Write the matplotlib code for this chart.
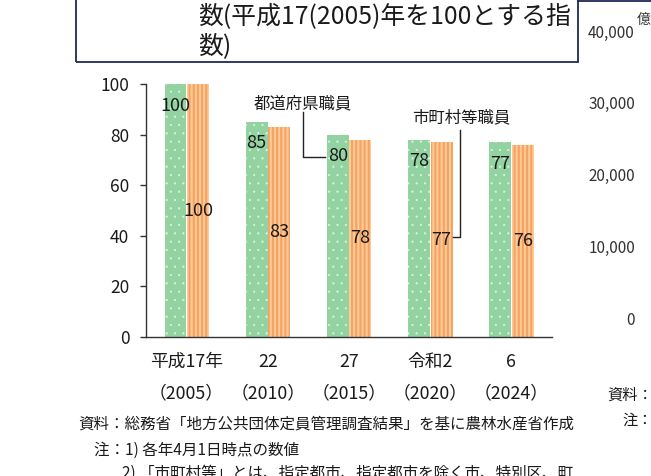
import matplotlib
matplotlib.use("Agg")
import matplotlib.pyplot as plt
from matplotlib.patches import Rectangle
from matplotlib.lines import Line2D
from matplotlib.transforms import blended_transform_factory

plt.rcParams['font.family'] = ['Noto Sans CJK JP', 'DejaVu Sans']

# データ（平成17年=100とする指数）
nendo = ['平成17年', '22', '27', '令和2', '6']
seireki = ['（2005）', '（2010）', '（2015）', '（2020）', '（2024）']
todofuken = [100, 85, 80, 78, 77]
shichoson = [100, 83, 78, 77, 76]

migi_ticks = ['40,000', '30,000', '20,000', '10,000', '0']

midashi = '数(平成17(2005)年を100とする指\n数)'
shiryo = '資料：総務省「地方公共団体定員管理調査結果」を基に農林水産省作成'
chu1 = '注：1) 各年4月1日時点の数値'
chu2 = '2) 「市町村等」とは、指定都市、指定都市を除く市、特別区、町'

W, H = 651, 476
fig = plt.figure(figsize=(W / 100, H / 100), dpi=100)
ax = fig.add_axes([146 / W, 1 - 337 / H, 406 / W, 253 / H])

x = list(range(len(nendo)))
haba = 0.27
with plt.rc_context({'hatch.linewidth': 0.3}):
    ax.bar([i - 0.137 for i in x], todofuken, haba, color='#93d3a2',
           edgecolor='#e2f4e5', linewidth=0, hatch='..')
with plt.rc_context({'hatch.linewidth': 1.5}):
    ax.bar([i + 0.14 for i in x], shichoson, haba, color='#ffcb92',
           edgecolor='#f4a266', linewidth=0, hatch='||||')

ax.set_xlim(-0.5, 4.5)
ax.set_ylim(0, 100)
ax.set_yticks([0, 20, 40, 60, 80, 100])
ax.set_xticks([])
ax.tick_params(axis='y', direction='out', length=4, width=1, color='#333333',
               labelsize=12.5, pad=8, labelcolor='#1a1a1a')
for s in ['top', 'right']:
    ax.spines[s].set_visible(False)
for s in ['left', 'bottom']:
    ax.spines[s].set_color('#333333')
    ax.spines[s].set_linewidth(1.0)

# 数値ラベル
for i in x:
    ax.text(i - 0.137, todofuken[i] - 8.5, str(todofuken[i]), ha='center',
            va='center', fontsize=13, color='#1a1a1a')
    ax.text(i + 0.14, shichoson[i] / 2, str(shichoson[i]), ha='center',
            va='center', fontsize=13, color='#1a1a1a')

# 横軸ラベル（2段）
tr = blended_transform_factory(ax.transData, ax.transAxes)
for i in x:
    ax.text(i, -0.099, nendo[i], transform=tr, ha='center', va='center',
            fontsize=12.8, color='#1a1a1a')
    ax.text(i, -0.221, seireki[i], transform=tr, ha='center', va='center',
            fontsize=12.8, color='#1a1a1a')

# 系列名と引き出し線
ax.text(1.433, 92.1, '都道府県職員', ha='center', va='center', fontsize=11.8,
        color='#1a1a1a')
ax.plot([1.433, 1.433, 1.70], [88.9, 71.1, 71.1], color='#222222', lw=1,
        clip_on=False)
ax.text(3.379, 86.6, '市町村等職員', ha='center', va='center', fontsize=11.8,
        color='#1a1a1a')
ax.plot([3.367, 3.367, 3.28], [81.8, 39.5, 39.5], color='#222222', lw=1,
        clip_on=False)

# 見出しの枠
waku = '#1f2a55'
fig.add_artist(Rectangle((76 / W, 1 - 62 / H), (578 - 76) / W, 70 / H,
                         transform=fig.transFigure, fill=False,
                         edgecolor=waku, lw=1.3))
fig.add_artist(Line2D([578 / W, 1.0], [1 - 1 / H, 1 - 1 / H],
                      transform=fig.transFigure, color=waku, lw=1.3))
fig.text(198 / W, 1 - 31 / H, midashi, ha='left', va='center',
         fontsize=17.9, linespacing=1.18, color='#1a1a1a')

# 右側（隣の図の一部）
for k, t in enumerate(migi_ticks):
    fig.text(635 / W, 1 - (33 + k * 71.8) / H, t, ha='right', va='center',
             fontsize=11, color='#333333')
fig.text(637 / W, 1 - 20 / H, '億', ha='left', va='center', fontsize=10,
         color='#333333')
fig.text(607 / W, 1 - 395 / H, '資料：', ha='left', va='center', fontsize=11,
         color='#1a1a1a')
fig.text(622 / W, 1 - 420 / H, '注：', ha='left', va='center', fontsize=11,
         color='#1a1a1a')

# 出典・注
fig.text(78 / W, 1 - 424 / H, shiryo, ha='left', va='center', fontsize=11.2,
         color='#1a1a1a')
fig.text(94 / W, 1 - 450 / H, chu1, ha='left', va='center', fontsize=11.2,
         color='#1a1a1a')
fig.text(122 / W, 1 - 473 / H, chu2, ha='left', va='center', fontsize=11.2,
         color='#1a1a1a')

fig.savefig('out.png', dpi=100)
